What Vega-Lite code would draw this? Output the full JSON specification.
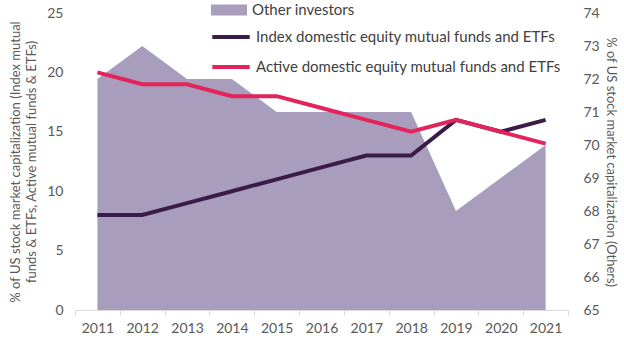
{
  "$schema": "https://vega.github.io/schema/vega-lite/v6.json",
  "width": 493,
  "height": 297,
  "autosize": {"type": "none"},
  "padding": {"left": 75, "top": 13, "right": 56, "bottom": 48},
  "config": {
    "font": "Lato",
    "view": {"stroke": null},
    "axis": {"labelColor": "#595959", "titleColor": "#595959", "labelFontSize": 14, "titleFontSize": 13, "titleFontWeight": "normal", "grid": false},
    "legend": {"labelColor": "#404040", "labelFontSize": 15, "labelLimit": 400}
  },
  "data": {
    "values": [
      {"year": "2011", "series": "Other investors", "value": 72},
      {"year": "2012", "series": "Other investors", "value": 73},
      {"year": "2013", "series": "Other investors", "value": 72},
      {"year": "2014", "series": "Other investors", "value": 72},
      {"year": "2015", "series": "Other investors", "value": 71},
      {"year": "2016", "series": "Other investors", "value": 71},
      {"year": "2017", "series": "Other investors", "value": 71},
      {"year": "2018", "series": "Other investors", "value": 71},
      {"year": "2019", "series": "Other investors", "value": 68},
      {"year": "2020", "series": "Other investors", "value": 69},
      {"year": "2021", "series": "Other investors", "value": 70},
      {"year": "2011", "series": "Index domestic equity mutual funds and ETFs", "value": 8},
      {"year": "2012", "series": "Index domestic equity mutual funds and ETFs", "value": 8},
      {"year": "2013", "series": "Index domestic equity mutual funds and ETFs", "value": 9},
      {"year": "2014", "series": "Index domestic equity mutual funds and ETFs", "value": 10},
      {"year": "2015", "series": "Index domestic equity mutual funds and ETFs", "value": 11},
      {"year": "2016", "series": "Index domestic equity mutual funds and ETFs", "value": 12},
      {"year": "2017", "series": "Index domestic equity mutual funds and ETFs", "value": 13},
      {"year": "2018", "series": "Index domestic equity mutual funds and ETFs", "value": 13},
      {"year": "2019", "series": "Index domestic equity mutual funds and ETFs", "value": 16},
      {"year": "2020", "series": "Index domestic equity mutual funds and ETFs", "value": 15},
      {"year": "2021", "series": "Index domestic equity mutual funds and ETFs", "value": 16},
      {"year": "2011", "series": "Active domestic equity mutual funds and ETFs", "value": 20},
      {"year": "2012", "series": "Active domestic equity mutual funds and ETFs", "value": 19},
      {"year": "2013", "series": "Active domestic equity mutual funds and ETFs", "value": 19},
      {"year": "2014", "series": "Active domestic equity mutual funds and ETFs", "value": 18},
      {"year": "2015", "series": "Active domestic equity mutual funds and ETFs", "value": 18},
      {"year": "2016", "series": "Active domestic equity mutual funds and ETFs", "value": 17},
      {"year": "2017", "series": "Active domestic equity mutual funds and ETFs", "value": 16},
      {"year": "2018", "series": "Active domestic equity mutual funds and ETFs", "value": 15},
      {"year": "2019", "series": "Active domestic equity mutual funds and ETFs", "value": 16},
      {"year": "2020", "series": "Active domestic equity mutual funds and ETFs", "value": 15},
      {"year": "2021", "series": "Active domestic equity mutual funds and ETFs", "value": 14}
    ]
  },
  "layer": [
    {
      "transform": [{"filter": "datum.series === 'Other investors'"}],
      "mark": {"type": "area", "opacity": 1},
      "encoding": {
        "x": {"field": "year", "type": "ordinal", "bandPosition": 0.5,
              "scale": {"type": "band", "paddingInner": 0, "paddingOuter": 0},
              "axis": {"title": null, "labelAngle": 0, "tickBand": "extent", "domainColor": "#D9D9D9", "tickColor": "#D9D9D9", "tickSize": 5, "labelPadding": 6}},
        "y": {"field": "value", "type": "quantitative",
              "scale": {"domain": [65, 74], "nice": false, "zero": false},
              "axis": {"orient": "right", "values": [65, 66, 67, 68, 69, 70, 71, 72, 73, 74], "domain": false, "ticks": false, "labelPadding": 15, "title": "% of US stock market capitalization (Others)", "titlePadding": 4}},
        "y2": {"datum": 65},
        "fill": {"field": "series", "type": "nominal",
                 "scale": {"domain": ["Other investors"], "range": ["#A99DBD"]},
                 "legend": {"title": null, "orient": "none", "legendX": 135, "legendY": -22, "symbolType": "M-1,-0.3H1V0.3H-1Z", "symbolSize": 1300, "symbolOpacity": 1, "labelOffset": 4}}
      }
    },
    {
      "transform": [{"filter": "datum.series !== 'Other investors'"}],
      "mark": {"type": "line", "strokeWidth": 4, "strokeCap": "butt"},
      "encoding": {
        "x": {"field": "year", "type": "ordinal", "bandPosition": 0.5},
        "y": {"field": "value", "type": "quantitative",
              "scale": {"domain": [0, 25], "nice": false},
              "axis": {"orient": "left", "values": [0, 5, 10, 15, 20, 25], "domain": false, "ticks": false, "labelPadding": 12,
                       "title": ["% of US stock market capitalization (Index mutual", "funds & ETFs, Active mutual funds & ETFs)"], "titlePadding": 8, "titleLineHeight": 16}},
        "stroke": {"field": "series", "type": "nominal",
                   "scale": {"domain": ["Index domestic equity mutual funds and ETFs", "Active domestic equity mutual funds and ETFs"], "range": ["#3B1C48", "#E2245A"]},
                   "legend": {"title": null, "orient": "none", "legendX": 135, "legendY": 3, "symbolType": "stroke", "symbolSize": 1400, "symbolStrokeWidth": 4, "rowPadding": 1, "labelOffset": 4}},
        "order": {"field": "series", "sort": "descending"}
      }
    }
  ],
  "resolve": {"scale": {"y": "independent", "x": "shared"}}
}
